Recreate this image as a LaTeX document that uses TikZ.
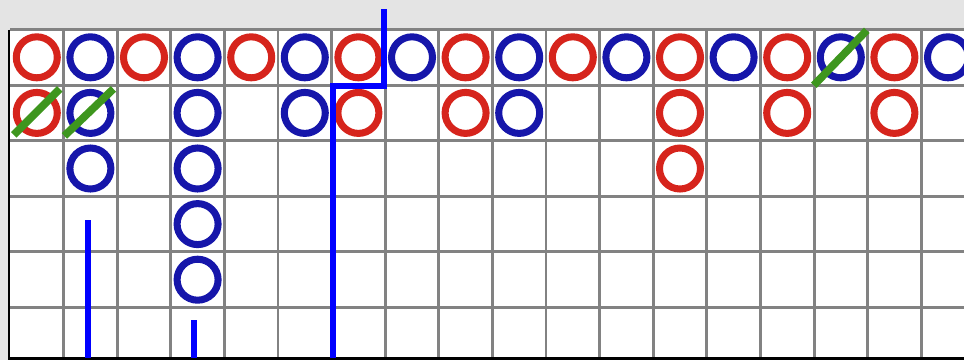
\documentclass[tikz,border=0pt]{standalone}
\usetikzlibrary{positioning}
\definecolor{bgGray}{RGB}{228,228,228}
\definecolor{gridGray}{RGB}{130,130,130}
\definecolor{beadRed}{RGB}{214,36,28}
\definecolor{beadBlue}{RGB}{22,22,170}
\definecolor{tieGreen}{RGB}{62,150,30}
\definecolor{trendBlue}{RGB}{0,0,255}
\tikzset{
  bead/.style={circle, draw, line width=4pt, minimum size=0.82cm, inner sep=0pt},
  redbead/.style={bead, draw=beadRed},
  bluebead/.style={bead, draw=beadBlue},
  tie/.style={draw=tieGreen, line width=4.4pt},
  trend/.style={draw=trendBlue, line width=3.3pt}
}
% cell centre: column \c, row \r (pixels)
\newcommand{\cellx}[1]{36.8+53.6*#1}
\newcommand{\celly}[1]{57.3+55.6*#1}
\begin{document}
\begin{tikzpicture}[x=0.02cm, y=-0.02cm]
    \useasboundingbox (0,0) rectangle (964,360);
    \fill[bgGray] (0,0) rectangle (964,360);

    % Tablero
    \fill[white] (10,29.5) rectangle (964,358);
    \foreach \k in {1,...,17} {
        \draw[gridGray, line width=1.7pt] (10+53.6*\k, 29.5) -- (10+53.6*\k, 358);
    }
    \foreach \j in {0,...,5} {
        \draw[gridGray, line width=1.7pt] (10, 29.5+55.6*\j) -- (964, 29.5+55.6*\j);
    }
    \draw[black, line width=1.7pt] (9,29.5) -- (9,358) -- (964,358);

    % Fila superior (alterna rojo / azul)
    \foreach \c in {0,2,...,16} {
        \node[redbead] (b\c-0) at ({\cellx{\c}}, {\celly{0}}) {};
    }
    \foreach \c in {1,3,...,17} {
        \node[bluebead] (b\c-0) at ({\cellx{\c}}, {\celly{0}}) {};
    }

    % Resto de las columnas
    \foreach \c/\r/\kind in {
        0/1/redbead, 1/1/bluebead, 3/1/bluebead, 5/1/bluebead,
        6/1/redbead, 8/1/redbead, 9/1/bluebead, 12/1/redbead,
        14/1/redbead, 16/1/redbead,
        1/2/bluebead, 3/2/bluebead, 12/2/redbead,
        3/3/bluebead, 3/4/bluebead} {
        \node[\kind] (b\c-\r) at ({\cellx{\c}}, {\celly{\r}}) {};
    }

    % Empates (rayas verdes)
    \draw[tie] (b0-1.center) ++(-23,22) -- ++(46,-46);
    \draw[tie] (b1-1.center) ++(-26,23) -- ++(49,-47);
    \draw[tie] (b15-0.center) ++(-27,28) -- ++(53,-55);

    % Lineas de tendencia
    \coordinate (t1top) at (88,220);
    \coordinate (t1end) at (88,358);
    \coordinate (t2top) at (194,320);
    \coordinate (t2end) at (194,358);
    \coordinate (t3end) at (333,358);
    \coordinate (t3bend) at (333,86);
    \coordinate (t3step) at (384,86);
    \coordinate (t3top) at (384,9);
    \draw[trend] (t1top) -- (t1end);
    \draw[trend] (t2top) -- (t2end);
    \draw[trend] (t3end) -- (t3bend) -- (t3step) -- (t3top);

\end{tikzpicture}
\end{document}
